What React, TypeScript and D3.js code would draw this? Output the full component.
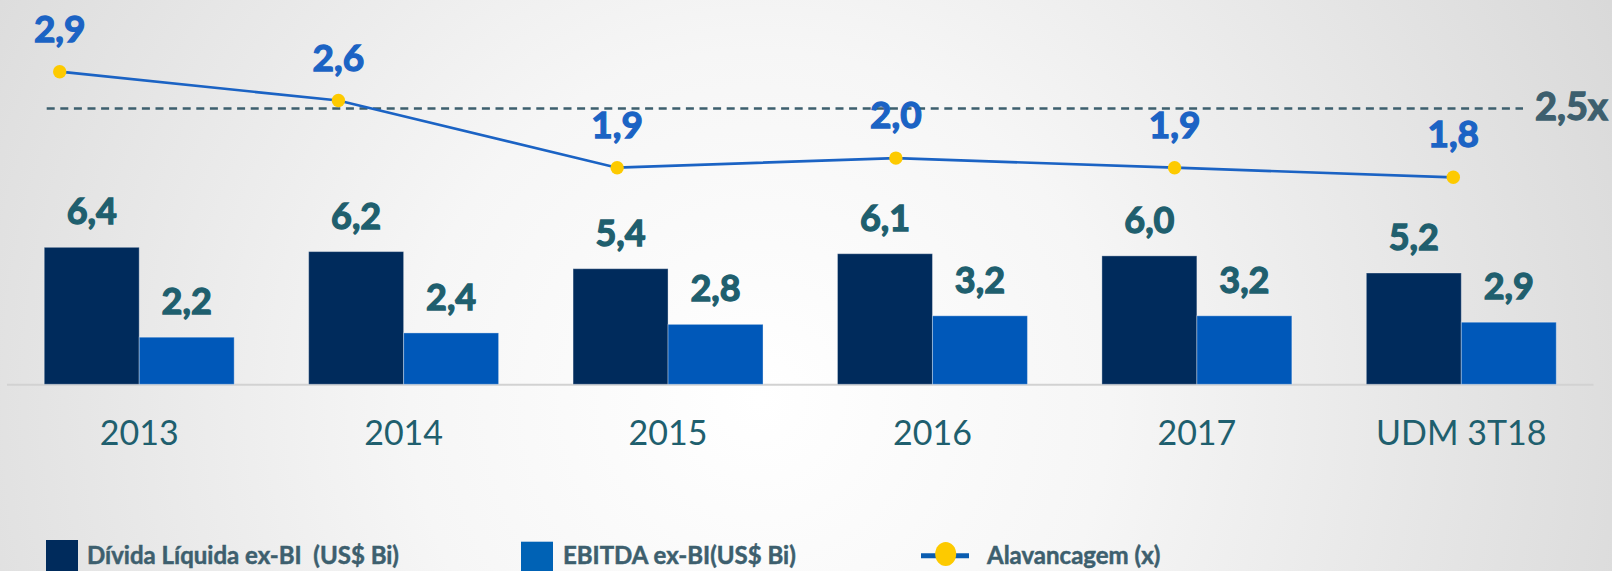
import React, { useEffect, useRef } from 'react';
import * as d3 from 'd3';

// chart data
const categories = ['2013', '2014', '2015', '2016', '2017', 'UDM 3T18'];
const dividaLiquida = [6.4, 6.2, 5.4, 6.1, 6.0, 5.2];
const ebitda = [2.2, 2.4, 2.8, 3.2, 3.2, 2.9];
const alavancagem = [2.9, 2.6, 1.9, 2.0, 1.9, 1.8];
const limite = 2.5;
const seriesNames = ['Dívida Líquida ex-BI\u00a0 (US$ Bi)', 'EBITDA ex-BI(US$ Bi)', 'Alavancagem (x)'];

const WIDTH = 1612;
const HEIGHT = 571;

const fmt = (v: number) => v.toFixed(1).replace('.', ',');

const App = () => {
  const ref = useRef<SVGSVGElement>(null);

  useEffect(() => {
    const svg = d3.select(ref.current);
    svg.selectAll('*').remove();

    const font = 'Lato, "Open Sans", sans-serif';
    const darkBlue = '#002b5c';
    const midBlue = '#0058b9';
    const lineBlue = '#1b63c4';
    const teal = '#1f5f6e';
    const slate = '#3d5f6e';

    // background
    const defs = svg.append('defs');
    const grad = defs.append('radialGradient')
      .attr('id', 'bg')
      .attr('gradientUnits', 'userSpaceOnUse')
      .attr('cx', 760).attr('cy', 400).attr('r', 1000);
    grad.append('stop').attr('offset', 0).attr('stop-color', '#ffffff');
    grad.append('stop').attr('offset', 0.35).attr('stop-color', '#f6f6f6');
    grad.append('stop').attr('offset', 1).attr('stop-color', '#d6d6d6');
    svg.append('rect').attr('width', WIDTH).attr('height', HEIGHT).attr('fill', 'url(#bg)');

    // scales
    const x0 = d3.scaleBand().domain(categories).range([7, 1593.5]);
    const x1 = d3.scaleBand().domain(['divida', 'ebitda'])
      .range([0, x0.bandwidth()]).paddingOuter(0.392);
    const yBar = d3.scaleLinear().domain([0, 6.4]).range([384.3, 247.3]);
    const xLine = d3.scalePoint().domain(categories).range([59.7, 1453.3]);
    const yLine = d3.scaleLinear().domain([1.8, 2.9]).range([177.3, 71.7]);

    // axis baseline
    svg.append('line')
      .attr('x1', x0.range()[0]).attr('x2', x0.range()[1])
      .attr('y1', yBar(0) + 0.5).attr('y2', yBar(0) + 0.5)
      .attr('stroke', '#d2d2d2').attr('stroke-width', 2);

    const barData = categories.flatMap((c, i) => [
      { cat: c, key: 'divida', value: dividaLiquida[i], color: darkBlue },
      { cat: c, key: 'ebitda', value: ebitda[i], color: midBlue },
    ]);

    svg.append('g')
      .selectAll('rect')
      .data(barData)
      .join('rect')
      .attr('x', d => x0(d.cat)! + x1(d.key)!)
      .attr('y', d => yBar(d.value))
      .attr('width', x1.bandwidth())
      .attr('height', d => yBar(0) - yBar(d.value))
      .attr('fill', d => d.color)
      .attr('stroke', 'rgba(255,255,255,0.35)')
      .attr('stroke-width', 1);

    svg.append('g')
      .attr('text-anchor', 'middle')
      .selectAll('text')
      .data(barData)
      .join('text')
      .attr('x', d => x0(d.cat)! + x1(d.key)! + x1.bandwidth() / 2)
      .attr('y', d => yBar(d.value) - 23)
      .style('font-family', font)
      .style('font-weight', 'bold')
      .style('font-size', '36px')
      .style('fill', teal)
      .style('stroke', teal)
      .style('stroke-width', 1.3)
      .text(d => fmt(d.value));

    // category labels
    svg.append('g')
      .attr('text-anchor', 'middle')
      .selectAll('text')
      .data(categories)
      .join('text')
      .attr('x', d => x0(d)! + x0.bandwidth() / 2)
      .attr('y', 445)
      .style('font-family', font)
      .style('font-size', '34px')
      .style('fill', teal)
      .text(d => d);

    // 2,5x reference line
    svg.append('line')
      .attr('x1', 46.7).attr('x2', 1523)
      .attr('y1', yLine(limite) - 1.5).attr('y2', yLine(limite) - 1.5)
      .attr('stroke', slate).attr('stroke-width', 2.5)
      .attr('stroke-dasharray', '8,5.6');
    svg.append('text')
      .attr('x', 1535).attr('y', yLine(limite) + 10)
      .style('font-family', font)
      .style('font-weight', 'bold')
      .style('font-size', '38px')
      .style('fill', slate)
      .style('stroke', slate)
      .style('stroke-width', 1.3)
      .text(`${fmt(limite)}x`);

    // leverage line
    const lineData = categories.map((c, i) => ({ cat: c, value: alavancagem[i] }));
    const line = d3.line<{ cat: string; value: number }>()
      .x(d => xLine(d.cat)!)
      .y(d => yLine(d.value));
    svg.append('path')
      .datum(lineData)
      .attr('d', line)
      .attr('fill', 'none')
      .attr('stroke', lineBlue)
      .attr('stroke-width', 2.7);
    svg.append('g')
      .selectAll('circle')
      .data(lineData)
      .join('circle')
      .attr('cx', d => xLine(d.cat)!)
      .attr('cy', d => yLine(d.value))
      .attr('r', 6.7)
      .attr('fill', '#fdca00');
    svg.append('g')
      .attr('text-anchor', 'middle')
      .selectAll('text')
      .data(lineData)
      .join('text')
      .attr('x', d => xLine(d.cat)!)
      .attr('y', d => yLine(d.value) - 30)
      .style('font-family', font)
      .style('font-weight', 'bold')
      .style('font-size', '37px')
      .style('fill', lineBlue)
      .style('stroke', lineBlue)
      .style('stroke-width', 1.3)
      .text(d => fmt(d.value));

    // legend
    const legend = svg.append('g')
      .style('font-family', font)
      .style('font-weight', 'bold')
      .style('font-size', '24px')
      .style('fill', slate)
      .style('stroke', slate)
      .style('stroke-width', 0.5);
    legend.append('rect').attr('x', 46).attr('y', 540).attr('width', 32).attr('height', 32).attr('fill', darkBlue).style('stroke', 'none');
    legend.append('text').attr('x', 87).attr('y', 564.3).text(seriesNames[0]);
    legend.append('rect').attr('x', 521).attr('y', 541.7).attr('width', 32).attr('height', 32).attr('fill', '#0062b5').style('stroke', 'none');
    legend.append('text').attr('x', 563).attr('y', 564.3).text(seriesNames[1]);
    legend.append('line')
      .attr('x1', 921).attr('x2', 969).attr('y1', 555.7).attr('y2', 555.7)
      .style('stroke', '#0a5cb0').style('stroke-width', 5);
    legend.append('ellipse').attr('cx', 945.7).attr('cy', 554).attr('rx', 10.5).attr('ry', 12).attr('fill', '#fdca00').style('stroke', 'none');
    legend.append('text').attr('x', 987).attr('y', 564.3).text(seriesNames[2]);
  }, []);

  return (
    <svg
      ref={ref}
      width={WIDTH}
      height={HEIGHT}
      style={{ position: 'absolute', left: 0, top: 0 }}
    />
  );
};

export default App;
